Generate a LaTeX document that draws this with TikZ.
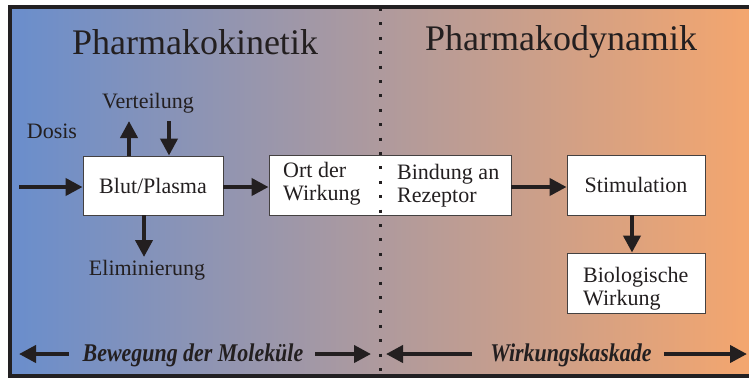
\documentclass[tikz,border=0pt]{standalone}
\usepackage{fontspec}
\setmainfont{Liberation Serif}
\newfontfamily\footfont[FakeStretch=0.86]{Liberation Serif}
\usetikzlibrary{arrows.meta}

\definecolor{ink}{RGB}{35,31,32}
\definecolor{framec}{RGB}{34,32,34}
\definecolor{pkblue}{RGB}{106,142,204}
\definecolor{midmauve}{RGB}{178,150,162}
\definecolor{pdorange}{RGB}{244,166,110}

\tikzset{
  x=1pt, y=-1pt,
  lbl/.style={text=ink, inner sep=0pt, font=\fontsize{22}{23}\selectfont},
  title/.style={text=ink, inner sep=0pt, font=\fontsize{36}{40}\selectfont},
  foot/.style={text=ink, inner sep=0pt, font=\footfont\fontsize{25.5}{27}\selectfont\bfseries\itshape},
  box/.style={draw=ink!85, line width=0.9pt, fill=white, inner sep=0pt,
              text=ink, font=\fontsize{22}{23}\selectfont},
  arr/.style={draw=ink, line width=4pt, -{Triangle[length=17pt,width=17pt]}},
}

\begin{document}
\begin{tikzpicture}
\useasboundingbox (0,0) rectangle (749,378);

% background gradient and frame
\shade[left color=pkblue, middle color=midmauve, right color=pdorange]
  (12,9) rectangle (751,374);
\draw[framec, line width=4pt] (751,7) -- (10,7) -- (10,376) -- (751,376);

% headings
\node[title, anchor=base] (pk) at (195,54) {Pharmakokinetik};
\node[title, anchor=base] (pd) at (561,50) {Pharmakodynamik};

% boxes
\node[box, minimum width=140, minimum height=59] (blut) at (153,185.5) {Blut/Plasma};
\node[box, minimum width=242, minimum height=60] (site) at (390,185) {};
\node[lbl, anchor=west, align=left] (ort) at (283,184) {Ort der\\Wirkung};
\node[lbl, anchor=west, align=left] (bind) at (397,186) {Bindung an\\Rezeptor};
\node[box, minimum width=138, minimum height=60] (stim) at (636,185) {Stimulation};
\node[box, minimum width=138, minimum height=60] (bio) at (636,283) {};
\node[lbl, anchor=west, align=left] (biotxt) at (583,289) {Biologische\\Wirkung};

% free labels
\node[lbl, anchor=base] (dosis) at (52,138) {Dosis};
\node[lbl, anchor=base] (vert) at (148,108) {Verteilung};
\node[lbl, anchor=base] (elim) at (147,275) {Eliminierung};

% connectors
\coordinate (din) at (19,187);
\coordinate (vout) at (129,121);
\coordinate (vin) at (169,121);
\coordinate (eout) at (144,257);
\draw[arr] (din) -- (blut.west |- din);
\draw[arr] (vout |- blut.north) -- (vout);
\draw[arr] (vin) -- (vin |- blut.north);
\draw[arr] (eout |- blut.south) -- (eout);
\draw[arr] (blut.east |- din) -- (site.west |- din);
\draw[arr] (site.east |- din) -- (stim.west |- din);
\draw[arr] ([xshift=-4]stim.south) -- ([xshift=-4]bio.north);

% footer
\node[foot, anchor=base] (bew) at (193,361) {Bewegung der Moleküle};
\node[foot, anchor=base] (kask) at (571,361) {Wirkungskaskade};
\coordinate (bl) at (19,354);
\coordinate (br) at (371,354);
\coordinate (kl) at (386,354);
\coordinate (kr) at (747,354);
\draw[arr] (bew.west |- bl) ++(-14,0) -- (bl);
\draw[arr] (bew.east |- br) ++(12,0) -- (br);
\draw[arr] (kask.west |- kl) ++(-18,0) -- (kl);
\draw[arr] (kask.east |- kr) ++(12,0) -- (kr);

% divider between the two halves
\draw[ink, line width=3pt, dash pattern=on 3pt off 11.4pt] (380,8) -- (380,378);
\end{tikzpicture}
\end{document}
